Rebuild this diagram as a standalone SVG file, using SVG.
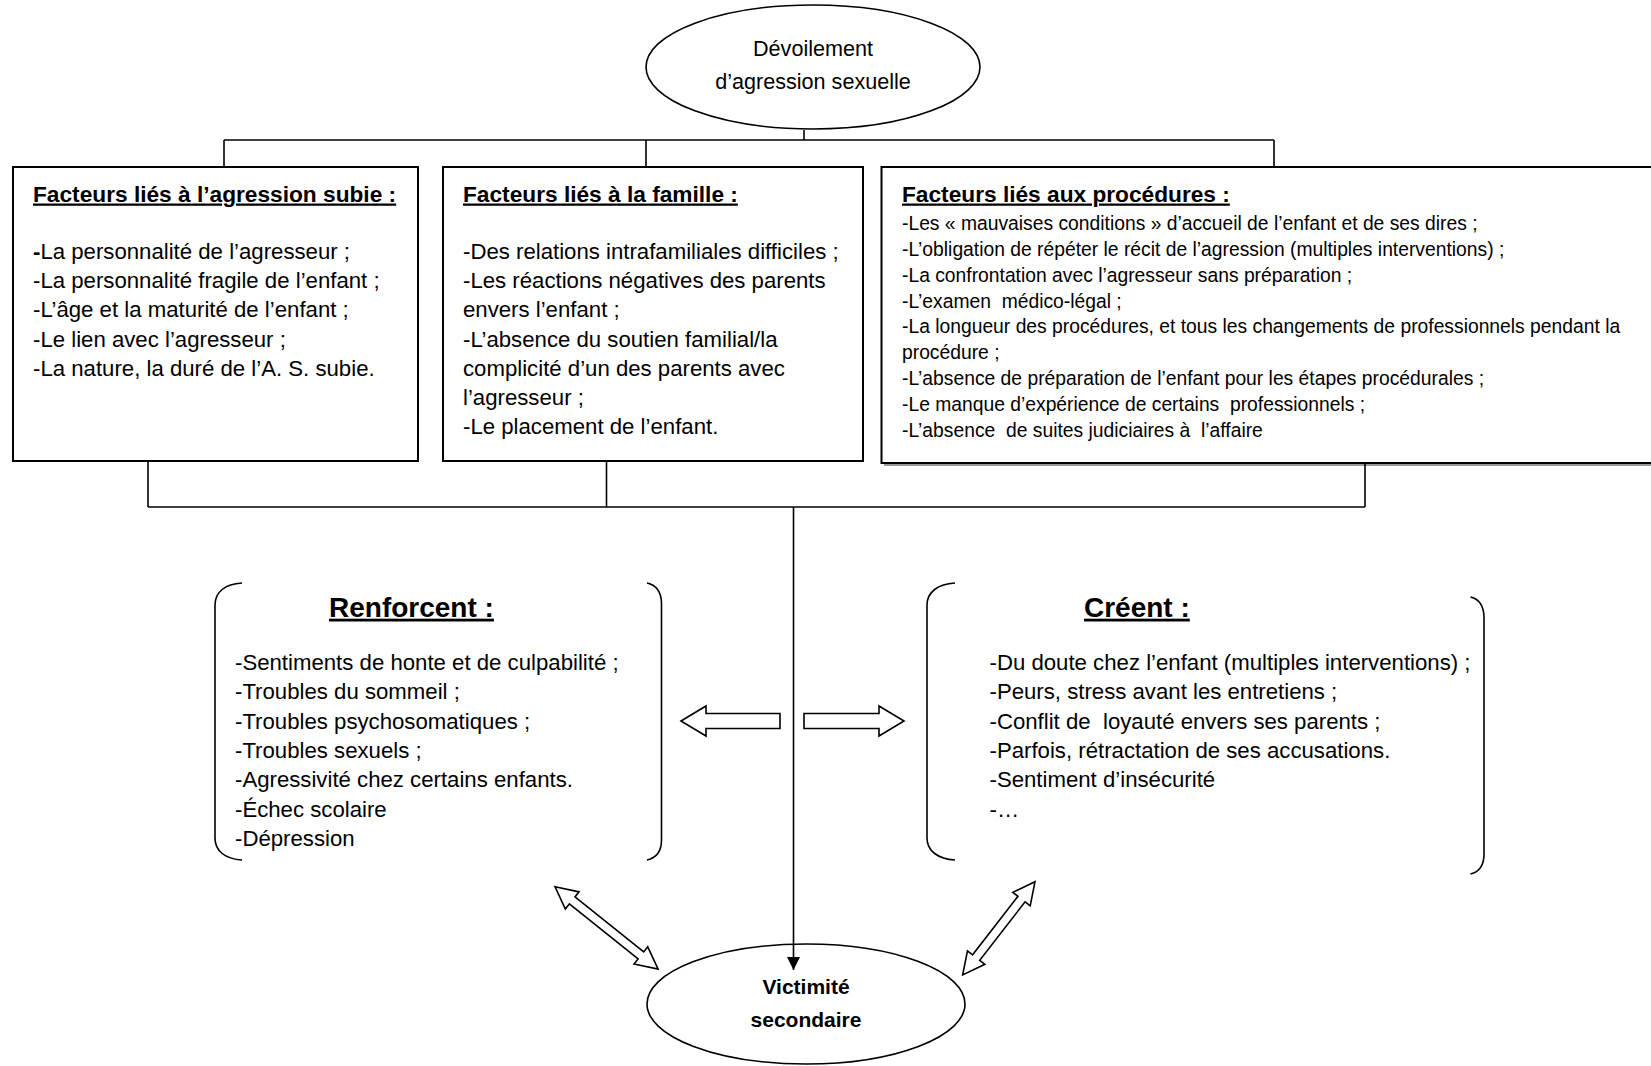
<svg xmlns="http://www.w3.org/2000/svg" width="1651" height="1066" viewBox="0 0 1651 1066">
<style>
text{font-family:"Liberation Sans",Arial,sans-serif;fill:#000;white-space:pre}
.h{font-weight:bold;text-decoration:underline;font-size:22.7px}
.i{font-size:22.2px}
.s{font-size:19.3px}
.e{font-size:21.6px;text-anchor:middle}
.v{font-size:21px;font-weight:bold;text-anchor:middle}
.big{font-weight:bold;text-decoration:underline;font-size:28px}
.ln{stroke:#000;stroke-width:1.6;fill:none}
.box{fill:#fff;stroke:#000;stroke-width:2}
.blk{fill:#fff;stroke:#000;stroke-width:1.6;stroke-linejoin:miter}
</style>
<defs>
<marker id="ah" viewBox="0 0 13 13" refX="13" refY="6.5" markerWidth="13" markerHeight="13" markerUnits="userSpaceOnUse" orient="auto">
<path d="M0,0 L13,6.5 L0,13 Z" fill="#000"/>
</marker>
</defs>
<rect width="1651" height="1066" fill="#fff"/>

<g id="n-devoilement">
<ellipse class="blk" cx="813" cy="67" rx="167" ry="62"/>
<text class="e" x="813" y="56">Dévoilement</text>
<text class="e" x="813" y="89">d’agression sexuelle</text>
</g>

<g id="n-agression">
<rect class="box" x="13" y="167" width="405" height="294"/>
<text class="h" x="33" y="201.5">Facteurs liés à l’agression subie :</text>
<text class="i" x="33" y="259.3"><tspan font-weight="bold">-</tspan>La personnalité de l’agresseur ;</text>
<text class="i" x="33" y="288.3">-La personnalité fragile de l’enfant ;</text>
<text class="i" x="33" y="317.3">-L’âge et la maturité de l’enfant ;</text>
<text class="i" x="33" y="346.7">-Le lien avec l’agresseur ;</text>
<text class="i" x="33" y="376">-La nature, la duré de l’A. S. subie.</text>
</g>

<g id="n-famille">
<rect class="box" x="443" y="167" width="420" height="294"/>
<text class="h" x="463" y="201.5">Facteurs liés à la famille :</text>
<text class="i" x="463" y="259.3">-Des relations intrafamiliales difficiles ;</text>
<text class="i" x="463" y="288.3">-Les réactions négatives des parents</text>
<text class="i" x="463" y="317.3">envers l’enfant ;</text>
<text class="i" x="463" y="346.7">-L’absence du soutien familial/la</text>
<text class="i" x="463" y="376">complicité d’un des parents avec</text>
<text class="i" x="463" y="405">l’agresseur ;</text>
<text class="i" x="463" y="434">-Le placement de l’enfant.</text>
</g>

<g id="n-procedures">
<rect x="884" y="170" width="790" height="296" fill="#999"/>
<rect class="box" x="881.5" y="167" width="790" height="296"/>
<text class="h" x="902" y="201.5">Facteurs liés aux procédures :</text>
<text class="s" x="902" y="230">-Les « mauvaises conditions » d’accueil de l’enfant et de ses dires ;</text>
<text class="s" x="902" y="256">-L’obligation de répéter le récit de l’agression (multiples interventions) ;</text>
<text class="s" x="902" y="281.7">-La confrontation avec l’agresseur sans préparation ;</text>
<text class="s" x="902" y="307.7">-L’examen  médico-légal ;</text>
<text class="s" x="902" y="333.3">-La longueur des procédures, et tous les changements de professionnels pendant la</text>
<text class="s" x="902" y="359">procédure ;</text>
<text class="s" x="902" y="385">-L’absence de préparation de l’enfant pour les étapes procédurales ;</text>
<text class="s" x="902" y="411">-Le manque d’expérience de certains  professionnels ;</text>
<text class="s" x="902" y="436.7">-L’absence  de suites judiciaires à  l’affaire</text>
</g>

<g id="n-renforcent">
<path class="ln" d="M242,583 C225,584 215,592 215,605 L215,838 C215,851 225,859 242,860"/>
<path class="ln" d="M647,583 C656,585 661.5,592 661.5,604 L661.5,840 C661.5,851 656,858 647,860"/>
<text class="big" x="329" y="616.7">Renforcent :</text>
<text class="i" x="235" y="670">-Sentiments de honte et de culpabilité ;</text>
<text class="i" x="235" y="699.3">-Troubles du sommeil ;</text>
<text class="i" x="235" y="728.6">-Troubles psychosomatiques ;</text>
<text class="i" x="235" y="758">-Troubles sexuels ;</text>
<text class="i" x="235" y="787.3">-Agressivité chez certains enfants.</text>
<text class="i" x="235" y="816.6">-Échec scolaire</text>
<text class="i" x="235" y="846">-Dépression</text>
</g>

<g id="n-creent">
<path class="ln" d="M955,583 C938,584 927,592 927,605 L927,838 C927,851 938,859 955,860"/>
<path class="ln" d="M1470.5,597 C1479,599 1484,606 1484,618 L1484,854 C1484,865 1479,872 1470.5,874"/>
<text class="big" x="1084" y="616.7">Créent :</text>
<text class="i" x="989.5" y="670">-Du doute chez l’enfant (multiples interventions) ;</text>
<text class="i" x="989.5" y="699.3">-Peurs, stress avant les entretiens ;</text>
<text class="i" x="989.5" y="728.6">-Conflit de  loyauté envers ses parents ;</text>
<text class="i" x="989.5" y="758">-Parfois, rétractation de ses accusations.</text>
<text class="i" x="989.5" y="787.3">-Sentiment d’insécurité</text>
<text class="i" x="989.5" y="816.6">-…</text>
</g>

<g id="n-victimite">
<ellipse class="blk" cx="806" cy="1004" rx="159" ry="60"/>
<text class="v" x="806" y="994">Victimité</text>
<text class="v" x="806" y="1027">secondaire</text>
</g>

<g id="connectors">
<line class="ln" x1="804" y1="130" x2="804" y2="140"/>
<line class="ln" x1="224" y1="140" x2="1274" y2="140" stroke-width="2"/>
<line class="ln" x1="224" y1="140" x2="224" y2="166"/>
<line class="ln" x1="646" y1="140" x2="646" y2="166"/>
<line class="ln" x1="1274" y1="140" x2="1274" y2="166"/>
<line class="ln" x1="148" y1="462" x2="148" y2="507"/>
<line class="ln" x1="606.5" y1="462" x2="606.5" y2="507"/>
<line class="ln" x1="1365" y1="464" x2="1365" y2="507"/>
<line class="ln" x1="148" y1="507" x2="1365" y2="507" stroke-width="2.4"/>
<line class="ln" x1="793.5" y1="507" x2="793.5" y2="970" stroke-width="2.2" marker-end="url(#ah)"/>
<polygon class="blk" points="681,721 706,706 706,713.5 780,713.5 780,728.5 706,728.5 706,736"/>
<polygon class="blk" points="804,713.5 879,713.5 879,706 904,721 879,736 879,728.5 804,728.5"/>
<polygon class="blk" transform="translate(555,886.7) rotate(38.65)" points="0,0 22,-11 22,-4.5 110,-4.5 110,-11 132,0 110,11 110,4.5 22,4.5 22,11"/>
<polygon class="blk" transform="translate(1035,881.7) rotate(127.8)" points="0,0 22,-11 22,-4.5 96,-4.5 96,-11 118,0 96,11 96,4.5 22,4.5 22,11"/>
</g>
</svg>
